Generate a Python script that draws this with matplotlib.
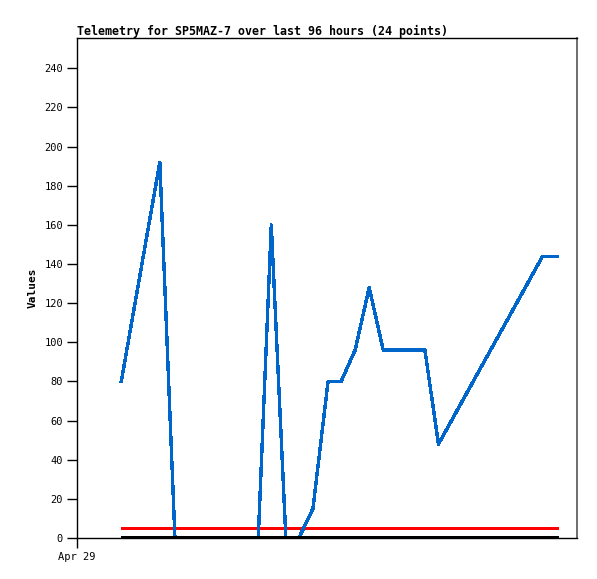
import matplotlib
matplotlib.use('Agg')
import matplotlib.pyplot as plt

# ── Data (hours since start of window) ────────────────────────────────────────

HOURS    = [8.5, 15.9, 18.8, 34.8, 37.3, 40.1, 42.6, 45.3, 48.2, 50.7,
            53.4, 56.1, 58.8, 66.8, 69.4, 89.4, 92.3]
VALUES   = [80, 192, 0, 0, 160, 0, 0, 15, 80, 80,
            96, 128, 96, 96, 48, 144, 144]
LIMIT    = 5      # red reference line
BASELINE = 0      # black reference line

TITLE     = 'Telemetry for SP5MAZ-7 over last 96 hours (24 points)'
YLABEL    = 'Values'
YTICKS    = list(range(0, 241, 20))
XTICKS    = [0]
XTICKLBLS = ['Apr 29']

MONO = 'DejaVu Sans Mono'

# ── Plot ─────────────────────────────────────────────────────────────────────

fig = plt.figure(figsize=(5.97, 5.79), dpi=100)
ax = fig.add_axes([77 / 597, 41 / 579, 500 / 597, 500 / 579])

x0, x1 = HOURS[0], HOURS[-1]
ax.plot([x0, x1], [LIMIT, LIMIT], color='#ff0000', lw=2.0,
        antialiased=False, solid_capstyle='butt', zorder=3)
ax.plot(HOURS, VALUES, color='#0066cc', lw=1.7, antialiased=False,
        zorder=4)
ax.plot([x0, x1], [BASELINE, BASELINE], color='black', lw=2.2,
        antialiased=False, solid_capstyle='butt', zorder=5)

ax.set_xlim(0, 96)
ax.set_ylim(0, 255.5)

ax.set_yticks(YTICKS)
ax.set_yticklabels([str(v) for v in YTICKS], family=MONO, fontsize=7.5)
ax.set_xticks(XTICKS)
ax.set_xticklabels(XTICKLBLS, family=MONO, fontsize=7.5)
ax.tick_params(axis='both', direction='out', length=7, width=1.0,
               color='black', pad=3)

for side in ('left', 'bottom', 'top'):
    ax.spines[side].set_color('black')
    ax.spines[side].set_linewidth(1.0)
ax.spines['right'].set_color('#555555')
ax.spines['right'].set_linewidth(1.2)

ax.set_ylabel(YLABEL, family=MONO, fontsize=8, fontweight='bold', labelpad=5)
ax.set_title(TITLE, family=MONO, fontsize=8.4, fontweight='bold',
             loc='left', pad=2)

fig.savefig('out.png', dpi=100)
